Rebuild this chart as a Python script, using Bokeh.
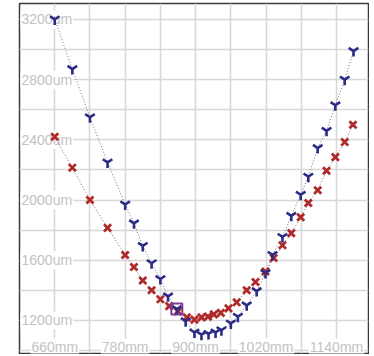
from bokeh.plotting import figure
from bokeh.models import FixedTicker, Range1d, ColumnDataSource
from bokeh.core.properties import value
from bokeh.embed import file_html
from bokeh.resources import INLINE

# ---- data ----
blue_x = [660, 690, 720, 750, 780, 795, 810, 825, 840, 853, 868, 883, 898, 910, 922, 934,
          944, 960, 972, 987, 1004, 1019, 1031, 1048, 1063, 1079, 1092, 1108, 1123, 1138, 1154, 1169]
blue_y = [3200, 2870, 2550, 2250, 1970, 1845, 1695, 1580, 1475, 1360, 1275, 1195, 1120, 1105, 1110, 1120,
          1135, 1180, 1225, 1300, 1395, 1515, 1635, 1755, 1895, 2035, 2155, 2345, 2460, 2630, 2800, 2990]

red_x = [660, 690, 720, 750, 780, 795, 810, 825, 840, 855, 870, 885, 898, 910, 921, 931,
         943, 956, 970, 987, 1002, 1019, 1033, 1048, 1063, 1079, 1092, 1108, 1123, 1138, 1154, 1168]
red_y = [2420, 2215, 2000, 1815, 1635, 1555, 1465, 1400, 1340, 1295, 1260, 1220, 1205, 1220, 1225, 1240,
         1250, 1280, 1320, 1400, 1455, 1525, 1615, 1700, 1780, 1885, 1980, 2065, 2195, 2285, 2385, 2500]

highlight_x = [868]
highlight_y = [1275]

x_grid = [600, 660, 720, 780, 840, 900, 960, 1020, 1080, 1140]
y_grid = [1000, 1200, 1400, 1600, 1800, 2000, 2200, 2400, 2600, 2800, 3000, 3200]

x_tick_vals = [660, 780, 900, 1020, 1140]
x_tick_labels = ["660mm", "780mm", "900mm", "1020mm", "1140mm"]
y_tick_vals = [3200, 2800, 2400, 2000, 1600, 1200]
y_tick_labels = ["3200um", "2800um", "2400um", "2000um", "1600um", "1200um"]

p = figure(width=369, height=354, output_backend="svg", toolbar_location=None,
           x_range=Range1d(600, 1194.5), y_range=Range1d(980, 3306),
           min_border_left=19, min_border_right=1, min_border_top=3, min_border_bottom=1)
p.xaxis.visible = False
p.yaxis.visible = False
p.xgrid.ticker = FixedTicker(ticks=x_grid)
p.ygrid.ticker = FixedTicker(ticks=y_grid)
for g in (p.xgrid, p.ygrid):
    g.grid_line_color = "#d8d8d8"
    g.grid_line_width = 1.6
p.outline_line_color = "#3a3a3a"
p.outline_line_width = 1.5
p.background_fill_color = "white"
p.border_fill_color = "white"

# tick labels drawn inside the plot (under the data marks)
ysrc = ColumnDataSource(dict(x=[600] * len(y_tick_vals), y=y_tick_vals, t=y_tick_labels))
p.text(x="x", y="y", text="t", source=ysrc, x_offset=1, text_align="left",
       text_baseline="middle", text_font=value("Liberation Sans"), text_font_size="14px",
       text_color="#c2c2c2", background_fill_color="white", padding=1)

xsrc = ColumnDataSource(dict(x=x_tick_vals, y=[1000] * len(x_tick_vals), t=x_tick_labels))
p.text(x="x", y="y", text="t", source=xsrc, y_offset=-3, text_align="center",
       text_baseline="middle", text_font=value("Liberation Sans"), text_font_size="14px",
       text_color="#c2c2c2", background_fill_color="white", padding=1)

# connecting dotted lines
p.line(blue_x, blue_y, line_color="#70708a", line_width=1, line_dash="1 2")
p.line(red_x, red_y, line_color="#8a7070", line_width=1, line_dash="1 2")

# markers
p.scatter(red_x, red_y, marker="x", size=10, line_color="#b02a2a", line_width=2.8)
p.scatter(blue_x, blue_y, marker="y", size=11, line_color="#2c2c88", line_width=2.6)
p.scatter(highlight_x, highlight_y, marker="square", size=11, fill_alpha=0,
          line_color="#7a3c9c", line_width=2)

open("out.html", "w").write(file_html(p, INLINE))
